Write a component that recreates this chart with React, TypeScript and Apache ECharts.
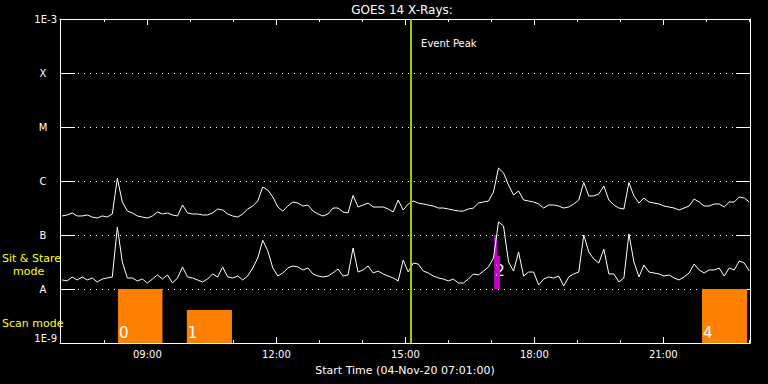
import React, { useEffect, useRef } from "react";
import * as echarts from "echarts";

// Sample times, minutes after midnight 04-Nov-20
const timeMinutes = [
  421, 428, 435, 442, 449, 456, 463, 470, 477, 484,
  491, 498, 505, 512, 519, 526, 533, 540, 547, 554,
  561, 568, 575, 582, 589, 596, 603, 610, 617, 624,
  631, 638, 645, 652, 659, 666, 673, 680, 687, 694,
  701, 708, 715, 722, 729, 736, 743, 750, 757, 764,
  771, 778, 785, 792, 799, 806, 813, 820, 827, 834,
  841, 848, 855, 862, 869, 876, 883, 890, 897, 904,
  911, 918, 925, 932, 939, 946, 953, 960, 967, 974,
  981, 988, 995, 1002, 1009, 1016, 1023, 1030, 1037, 1044,
  1051, 1058, 1065, 1072, 1079, 1086, 1093, 1100, 1107, 1114,
  1121, 1128, 1135, 1142, 1149, 1156, 1163, 1170, 1177, 1184,
  1191, 1198, 1205, 1212, 1219, 1226, 1233, 1240, 1247, 1254,
  1261, 1268, 1275, 1282, 1289, 1296, 1303, 1310, 1317, 1324,
  1331, 1338, 1345, 1352, 1359, 1366, 1373, 1380,
];

// 1-8 A channel (upper curve), W/m^2
const longFlux = [
  2.25e-7, 2.35e-7, 2.56e-7, 2.25e-7, 2.25e-7, 2.35e-7, 2.15e-7, 2.06e-7, 2.25e-7, 2.15e-7,
  2.45e-7, 1.12e-6, 4.08e-7, 2.78e-7, 2.56e-7, 2.25e-7, 2.15e-7, 2.06e-7, 2.25e-7, 2.67e-7,
  2.45e-7, 2.56e-7, 2.35e-7, 2.25e-7, 3.59e-7, 2.56e-7, 2.45e-7, 2.45e-7, 2.35e-7, 2.35e-7,
  2.56e-7, 3.03e-7, 2.9e-7, 2.45e-7, 2.25e-7, 2.15e-7, 2.45e-7, 3.03e-7, 3.44e-7, 4.26e-7,
  7.74e-7, 6.81e-7, 5.06e-7, 3.3e-7, 2.78e-7, 3.44e-7, 4.08e-7, 3.91e-7, 3.44e-7, 3.59e-7,
  2.78e-7, 2.45e-7, 2.25e-7, 2.45e-7, 3.16e-7, 3.16e-7, 2.67e-7, 2.56e-7, 5.4e-7, 3.3e-7,
  3.59e-7, 3.91e-7, 3.3e-7, 3.3e-7, 3.3e-7, 3.03e-7, 2.67e-7, 4.45e-7, 2.9e-7, 3.75e-7,
  4.26e-7, 3.91e-7, 3.75e-7, 3.59e-7, 3.44e-7, 3.16e-7, 3.16e-7, 3.03e-7, 2.9e-7, 2.78e-7,
  2.78e-7, 3.03e-7, 3.16e-7, 3.91e-7, 4.08e-7, 4.26e-7, 6.26e-7, 1.74e-6, 1.41e-6, 8.43e-7,
  5.5e-7, 6.53e-7, 4.45e-7, 4.26e-7, 4.08e-7, 3.75e-7, 3.16e-7, 3.59e-7, 3.59e-7, 3.44e-7,
  3.16e-7, 3.3e-7, 3.75e-7, 4.45e-7, 9.4e-7, 5.28e-7, 5.28e-7, 5.75e-7, 8.08e-7, 4.45e-7,
  3.59e-7, 3.16e-7, 3.03e-7, 9.4e-7, 5.28e-7, 3.91e-7, 4.84e-7, 4.08e-7, 3.91e-7, 3.75e-7,
  3.44e-7, 3.3e-7, 3.16e-7, 2.9e-7, 3.16e-7, 3.44e-7, 4.64e-7, 4.08e-7, 3.44e-7, 3.44e-7,
  3.75e-7, 3.75e-7, 3.3e-7, 4.08e-7, 4.08e-7, 5.06e-7, 4.84e-7, 4.08e-7,
];

// 0.5-4 A channel (lower curve), W/m^2
const shortFlux = [
  1.47e-8, 1.41e-8, 1.67e-8, 1.47e-8, 1.67e-8, 1.47e-8, 1.6e-8, 1.35e-8, 1.53e-8, 1.6e-8,
  1.67e-8, 1.4e-7, 3.16e-8, 1.6e-8, 1.6e-8, 1.41e-8, 1.53e-8, 1.29e-8, 1.53e-8, 1.82e-8,
  1.53e-8, 1.82e-8, 1.29e-8, 1.6e-8, 2.56e-8, 1.67e-8, 1.6e-8, 1.47e-8, 1.35e-8, 1.53e-8,
  1.9e-8, 1.67e-8, 2.56e-8, 1.67e-8, 1.6e-8, 1.74e-8, 1.47e-8, 1.74e-8, 2.45e-8, 3.75e-8,
  8.0e-8, 5.06e-8, 2.45e-8, 1.74e-8, 1.98e-8, 2.45e-8, 2.67e-8, 2.56e-8, 2.25e-8, 2.45e-8,
  1.9e-8, 1.74e-8, 1.67e-8, 1.74e-8, 1.98e-8, 2.35e-8, 1.74e-8, 1.82e-8, 5.75e-8, 2.06e-8,
  2.25e-8, 2.67e-8, 1.98e-8, 2.15e-8, 1.9e-8, 1.74e-8, 1.6e-8, 1.41e-8, 3.44e-8, 2.06e-8,
  3.03e-8, 2.9e-8, 2.15e-8, 1.98e-8, 1.74e-8, 1.6e-8, 1.53e-8, 1.41e-8, 1.53e-8, 1.29e-8,
  1.29e-8, 1.53e-8, 1.9e-8, 1.82e-8, 2.15e-8, 2.56e-8, 3.75e-8, 1.74e-7, 1.47e-7, 3.16e-8,
  2.15e-8, 4.84e-8, 1.74e-8, 2.06e-8, 2.06e-8, 1.19e-8, 1.53e-8, 1.67e-8, 1.6e-8, 1.74e-8,
  1.14e-8, 1.67e-8, 1.9e-8, 2.06e-8, 1.0e-7, 4.84e-8, 3.59e-8, 3.03e-8, 5.5e-8, 1.9e-8,
  1.9e-8, 1.35e-8, 1.6e-8, 1.05e-7, 3.16e-8, 1.67e-8, 2.78e-8, 2.06e-8, 1.98e-8, 1.9e-8,
  1.74e-8, 1.82e-8, 1.6e-8, 1.47e-8, 1.67e-8, 1.98e-8, 2.9e-8, 2.25e-8, 1.98e-8, 2.25e-8,
  2.25e-8, 2.45e-8, 1.74e-8, 2.45e-8, 2.25e-8, 3.3e-8, 3.03e-8, 2.15e-8,
];

// Scan mode blocks (minutes)
const scanStart = [499, 595, 1314];
const scanEnd = [561, 658, 1377];
const scanTop = [1e-8, 4.1e-9, 1e-8];
const scanLabels = ["0", "1", "4"];

// Sit & Stare block (minutes)
const stareStart = [1024, 1028];
const stareEnd = [1028, 1032];
const stareTop = [1e-7, 4.1e-8];
const stareLabels = ["2", ""];

const eventPeak = 908; // 15:08
const axisMinMinutes = 418;
const axisMaxMinutes = 1381;
const majorTicks = [540, 720, 900, 1080, 1260];
const hourTicks = [480, 540, 600, 660, 720, 780, 840, 900, 960, 1020, 1080, 1140, 1200, 1260, 1320, 1380];
const classNames: Record<string, string> = {
  "-3": "1E-3",
  "-4": "X",
  "-5": "M",
  "-6": "C",
  "-7": "B",
  "-8": "A",
  "-9": "1E-9",
};

const FONT = "DejaVu Sans";
const WHITE = "#ffffff";

const fmtTime = (m: number) => {
  const h = Math.floor(m / 60);
  const mm = Math.round(m % 60);
  return `${String(h).padStart(2, "0")}:${String(mm).padStart(2, "0")}`;
};

export default function App() {
  const ref = useRef<HTMLDivElement>(null);
  useEffect(() => {
    if (!ref.current) return;
    const chart = echarts.init(ref.current, undefined, { renderer: "svg" });

    const xBase = (position: string, ticks: number[], len: number, line: boolean, labels: boolean) => ({
      type: "value",
      position,
      min: axisMinMinutes,
      max: axisMaxMinutes,
      splitLine: { show: false },
      axisLine: { show: line, onZero: false, lineStyle: { color: WHITE, width: 1 } },
      axisTick: { show: true, inside: true, length: len, customValues: ticks, lineStyle: { color: WHITE, width: 1 } },
      axisLabel: labels
        ? {
            show: true,
            customValues: majorTicks,
            formatter: (v: number) => fmtTime(v),
            color: WHITE,
            fontFamily: FONT,
            fontSize: 10,
            margin: 6,
          }
        : { show: false },
    });

    const yBase = (position: string, len: number, labels: boolean, split: boolean) => ({
      type: "log",
      logBase: 10,
      position,
      min: 1e-9,
      max: 1e-3,
      splitNumber: 6,
      axisLine: { show: true, onZero: false, lineStyle: { color: WHITE, width: 1 } },
      axisTick: { show: true, inside: true, length: len, lineStyle: { color: WHITE, width: 1 } },
      minorTick: { show: false },
      splitLine: split ? { show: true, lineStyle: { color: WHITE, width: 1, type: [1, 5] } } : { show: false },
      axisLabel: labels
        ? {
            show: true,
            color: WHITE,
            fontFamily: FONT,
            fontSize: 10,
            margin: 3,
            align: "right",
            verticalAlignMaxLabel: "top",
            verticalAlignMinLabel: "bottom",
            formatter: (v: number) => {
              const e = String(Math.round(Math.log10(v)));
              const name = classNames[e] || "";
              return name.length === 1 ? `{c|${name}}` : name;
            },
            rich: { c: { width: 28, align: "center", color: WHITE, fontFamily: FONT, fontSize: 10 } },
          }
        : { show: false },
    });

    const xAxes: any[] = [
      xBase("bottom", majorTicks, 6, true, true),
      xBase("bottom", hourTicks, 3, false, false),
      xBase("top", majorTicks, 6, true, false),
      xBase("top", hourTicks, 3, false, false),
    ];
    xAxes[0].name = "Start Time (04-Nov-20 07:01:00)";
    xAxes[0].nameLocation = "middle";
    xAxes[0].nameGap = 22;
    xAxes[0].nameTextStyle = { color: WHITE, fontFamily: FONT, fontSize: 11 };

    const blockRender = (labels: string[], base: number, color: string, labelLift: number) =>
      (params: any, api: any) => {
        const a = api.coord([api.value(0), api.value(2)]);
        const b = api.coord([api.value(1), base]);
        const label = labels[params.dataIndex];
        const children: any[] = [
          {
            type: "rect",
            shape: { x: a[0], y: a[1], width: b[0] - a[0], height: b[1] - a[1] },
            style: { fill: color },
          },
        ];
        if (label) {
          children.push({
            type: "text",
            x: a[0] + 1,
            y: b[1] - labelLift,
            style: {
              text: label,
              fill: WHITE,
              font: `15px "${FONT}"`,
              align: "left",
              verticalAlign: "bottom",
            },
          });
        }
        return { type: "group", children };
      };

    const option: any = {
      animation: false,
      backgroundColor: "#000000",
      grid: { left: 60, right: 18, top: 19, bottom: 41, containLabel: false },
      xAxis: xAxes,
      yAxis: [yBase("left", 15, true, true), yBase("right", 14, false, false)],
      series: [
        {
          type: "custom",
          name: "Scan mode",
          xAxisIndex: 0,
          yAxisIndex: 0,
          encode: { x: [0, 1], y: 2 },
          data: scanStart.map((s, i) => [s, scanEnd[i], scanTop[i]]),
          renderItem: blockRender(scanLabels, 1e-9, "#ff8000", 3),
          z: 1,
        },
        {
          type: "custom",
          name: "Sit & Stare",
          xAxisIndex: 0,
          yAxisIndex: 0,
          encode: { x: [0, 1], y: 2 },
          data: stareStart.map((s, i) => [s, stareEnd[i], stareTop[i]]),
          renderItem: blockRender(stareLabels, 1e-8, "#cc00cc", 11),
          z: 1,
        },
        {
          type: "line",
          name: "1-8 A",
          xAxisIndex: 0,
          yAxisIndex: 0,
          data: timeMinutes.map((t, i) => [t, longFlux[i]]),
          showSymbol: false,
          symbol: "none",
          lineStyle: { color: WHITE, width: 1 },
          z: 3,
          markLine: {
            silent: true,
            symbol: ["none", "none"],
            label: { show: false },
            lineStyle: { color: "#99cc00", width: 2, type: "solid" },
            data: [{ xAxis: eventPeak }],
          },
        },
        {
          type: "line",
          name: "0.5-4 A",
          xAxisIndex: 0,
          yAxisIndex: 0,
          data: timeMinutes.map((t, i) => [t, shortFlux[i]]),
          showSymbol: false,
          symbol: "none",
          lineStyle: { color: WHITE, width: 1 },
          z: 3,
        },
      ],
    };
    chart.setOption(option);

    const peakX = chart.convertToPixel({ xAxisIndex: 0 }, eventPeak) as number;
    chart.setOption({
      graphic: [
        {
          type: "text",
          x: 402,
          y: 10,
          style: { text: "GOES 14 X-Rays:", fill: WHITE, font: `12px "${FONT}"`, align: "center", verticalAlign: "middle" },
        },
        {
          type: "text",
          x: peakX + 10,
          y: 43,
          style: { text: "Event Peak", fill: WHITE, font: `10px "${FONT}"`, align: "left", verticalAlign: "middle" },
        },
        {
          type: "text",
          x: 2,
          y: 258,
          z: 100,
          style: { text: "Sit & Stare", fill: "#ffff00", font: `11px "${FONT}"`, align: "left", verticalAlign: "middle" },
        },
        {
          type: "text",
          x: 13,
          y: 271,
          style: { text: "mode", fill: "#ffff00", font: `11px "${FONT}"`, align: "left", verticalAlign: "middle" },
        },
        {
          type: "text",
          x: 2,
          y: 323,
          style: { text: "Scan mode", fill: "#ffff00", font: `11px "${FONT}"`, align: "left", verticalAlign: "middle" },
        },
      ],
    });

    return () => chart.dispose();
  }, []);

  return (
    <div
      ref={ref}
      style={{ position: "fixed", left: 0, top: 0, width: 768, height: 384, background: "#000" }}
    />
  );
}
